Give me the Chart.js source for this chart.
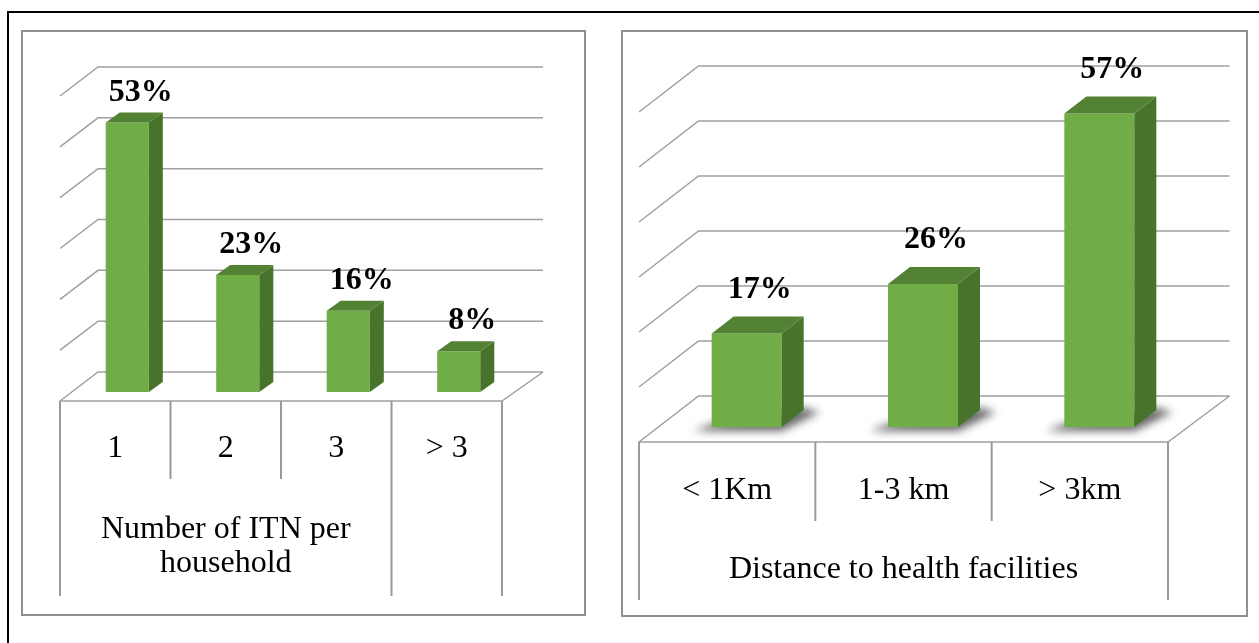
<!DOCTYPE html>
<html><head><meta charset="utf-8">
<script src="https://cdn.jsdelivr.net/npm/chart.js@4/dist/chart.umd.min.js"></script>
<style>
html,body{margin:0;padding:0;background:#fff;width:1259px;height:643px;overflow:hidden;}
#frame{position:absolute;left:7px;top:11px;width:1300px;height:700px;border-left:2px solid #000;border-top:2px solid #000;}
.panel{position:absolute;border:2px solid #8f8f8f;box-sizing:border-box;}
#p1{left:21px;top:30px;width:565px;height:586px;}
#p2{left:621px;top:30px;width:627px;height:587px;}
canvas{position:absolute;top:0;}
#c1{left:0;}
#c2{left:600px;}
</style></head><body>
<div id="frame"></div>
<div class="panel" id="p1"></div>
<div class="panel" id="p2"></div>
<canvas id="c1" width="600" height="643"></canvas>
<canvas id="c2" width="659" height="643"></canvas>
<script>
// ---- data ----
const itnCategories = ['1', '2', '3', '> 3'];
const itnValues = [53, 23, 16, 8];
const itnGroupTitle = ['Number of ITN per', 'household'];
const itnGroupSpan = 3;

const distCategories = ['< 1Km', '1-3 km', '> 3km'];
const distValues = [17, 26, 57];
const distGroupTitle = ['Distance to health facilities'];
const distGroupSpan = 3;

const yTicks = [0, 10, 20, 30, 40, 50, 60];

// ---- 3D look plugin ----
const box3d = {
  id: 'box3d',
  beforeDatasetsDraw(chart, args, o) {
    const ctx = chart.ctx, xs = chart.scales.x, ys = chart.scales.y;
    const L = xs.left, R = xs.right;
    ctx.save();
    ctx.strokeStyle = o.grid; ctx.lineWidth = o.gridWidth;
    yTicks.forEach(v => {
      const py = ys.getPixelForValue(v);
      ctx.beginPath();
      ctx.moveTo(L + o.front[0], py + o.front[1]);
      ctx.lineTo(L + o.back[0], py + o.back[1]);
      ctx.lineTo(R + o.back[0] + o.backExtra, py + o.back[1]);
      ctx.stroke();
    });
    const p0 = ys.getPixelForValue(0);
    const fy = p0 + o.front[1];
    ctx.beginPath();
    ctx.moveTo(L + o.front[0], fy);
    ctx.lineTo(R + o.front[0], fy);
    ctx.lineTo(R + o.back[0] + o.backExtra, p0 + o.back[1]);
    ctx.stroke();

    // category boxes
    const n = chart.data.labels.length;
    const step = xs.getPixelForValue(1) - xs.getPixelForValue(0);
    const bound = i => xs.getPixelForValue(0) - step / 2 + i * step + o.front[0];
    ctx.strokeStyle = o.boxColor; ctx.lineWidth = o.boxWidth;
    for (let i = 0; i <= n; i++) {
      const full = (i === 0 || i === n || i === o.groupSpan);
      ctx.beginPath();
      ctx.moveTo(bound(i), fy);
      ctx.lineTo(bound(i), fy + (full ? o.outerDrop : o.innerDrop));
      ctx.stroke();
    }
    ctx.fillStyle = '#000';
    ctx.textAlign = 'center'; ctx.textBaseline = 'alphabetic';
    ctx.font = '32px "Liberation Serif", "Times New Roman", serif';
    chart.data.labels.forEach((lab, i) => {
      ctx.fillText(lab, xs.getPixelForValue(i) + o.front[0], fy + o.catBase);
    });
    const gx = (bound(0) + bound(o.groupSpan)) / 2;
    o.groupTitle.forEach((line, k) => {
      ctx.fillText(line, gx, fy + o.groupBase[k]);
    });

    // soft shadows under bars
    if (o.shadow) {
      const meta = chart.getDatasetMeta(0);
      ctx.filter = 'blur(4px)';
      ctx.fillStyle = 'rgba(0,0,0,0.6)';
      meta.data.forEach(b => {
        const p = b.getProps(['x', 'y', 'base', 'width'], true);
        const l = p.x - p.width / 2, r = p.x + p.width / 2, [dx, dy] = o.depth;
        ctx.beginPath();
        ctx.moveTo(l - 18, p.base + 4);
        ctx.lineTo(r, p.base + 4);
        ctx.lineTo(r + dx + 16, p.base + dy + 2);
        ctx.lineTo(r + dx, p.base + dy - 2);
        ctx.lineTo(l, p.base - 3);
        ctx.closePath();
        ctx.fill();
      });
      ctx.filter = 'none';
    }
    ctx.restore();
  },
  afterDatasetsDraw(chart, args, o) {
    const ctx = chart.ctx;
    const meta = chart.getDatasetMeta(0);
    ctx.save();
    meta.data.forEach((b, i) => {
      const p = b.getProps(['x', 'y', 'base', 'width'], true);
      const l = p.x - p.width / 2, r = p.x + p.width / 2, [dx, dy] = o.depth;
      ctx.fillStyle = o.side;
      ctx.beginPath();
      ctx.moveTo(r, p.y); ctx.lineTo(r + dx, p.y + dy);
      ctx.lineTo(r + dx, p.base + dy); ctx.lineTo(r, p.base);
      ctx.closePath(); ctx.fill();
      ctx.fillStyle = o.top;
      ctx.beginPath();
      ctx.moveTo(l, p.y); ctx.lineTo(l + dx, p.y + dy);
      ctx.lineTo(r + dx, p.y + dy); ctx.lineTo(r, p.y);
      ctx.closePath(); ctx.fill();
      ctx.fillStyle = '#000';
      ctx.font = 'bold 32px "Liberation Serif", "Times New Roman", serif';
      ctx.textAlign = 'center'; ctx.textBaseline = 'alphabetic';
      ctx.fillText(chart.data.datasets[0].data[i] + '%', p.x + o.labelDx, p.y + o.labelDy);
    });
    ctx.restore();
  }
};

function makeChart(id, cats, vals, pad, barPct, opts) {
  return new Chart(document.getElementById(id), {
    type: 'bar',
    data: {
      labels: cats,
      datasets: [{ data: vals, backgroundColor: '#70AD47', borderWidth: 0,
                   barPercentage: barPct, categoryPercentage: 1 }]
    },
    options: {
      responsive: false, animation: false,
      layout: { padding: pad },
      scales: {
        x: { display: false, offset: true },
        y: { display: false, min: 0, max: 60 }
      },
      plugins: {
        legend: { display: false }, tooltip: { enabled: false },
        box3d: Object.assign({
          grid: '#a0a0a0', gridWidth: 1.5, boxColor: '#999999', boxWidth: 2,
          top: '#548235', side: '#47732B'
        }, opts)
      }
    },
    plugins: [box3d]
  });
}

makeChart('c1', itnCategories, itnValues,
  { left: 72, right: 86, top: 87, bottom: 251 }, 0.39,
  { front: [-12, 9], back: [26, -20], backExtra: 3, depth: [14, -10], labelDx: 13.5, labelDy: -22,
    catBase: 56, groupBase: [137, 171], innerDrop: 78, outerDrop: 195,
    groupTitle: itnGroupTitle, groupSpan: itnGroupSpan, shadow: false });

makeChart('c2', distCategories, distValues,
  { left: 58.5, right: 71.5, top: 97, bottom: 216 }, 0.397,
  { front: [-19.5, 15], back: [40, -31], backExtra: 2, depth: [22, -17], labelDx: 13, labelDy: -36,
    catBase: 57, groupBase: [136], innerDrop: 79, outerDrop: 158,
    groupTitle: distGroupTitle, groupSpan: distGroupSpan, shadow: true });
</script>
</body></html>
